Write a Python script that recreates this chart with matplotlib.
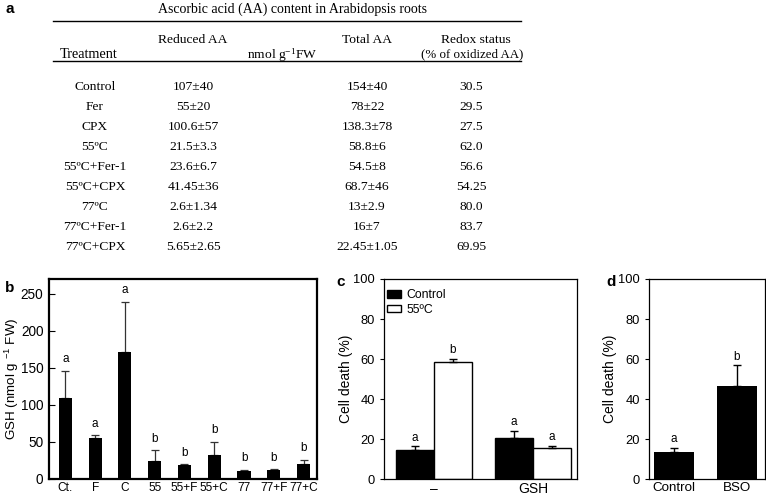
import matplotlib
matplotlib.use("Agg")
import matplotlib.pyplot as plt
import numpy as np
from matplotlib.lines import Line2D

W, H = 766, 497

# ---------------- data ----------------
table_title = "Ascorbic acid (AA) content in Arabidopsis roots"
treatments = ["Control", "Fer", "CPX", "55ºC", "55ºC+Fer-1", "55ºC+CPX",
              "77ºC", "77ºC+Fer-1", "77ºC+CPX"]
reduced_aa = ["107±40", "55±20", "100.6±57", "21.5±3.3", "23.6±6.7", "41.45±36",
              "2.6±1.34", "2.6±2.2", "5.65±2.65"]
total_aa = ["154±40", "78±22", "138.3±78", "58.8±6", "54.5±8", "68.7±46",
            "13±2.9", "16±7", "22.45±1.05"]
redox = ["30.5", "29.5", "27.5", "62.0", "56.6", "54.25", "80.0", "83.7", "69.95"]

b_cats = ["Ct.", "F", "C", "55", "55+F", "55+C", "77", "77+F", "77+C"]
b_vals = [110, 55, 171, 24, 18.5, 33, 10.8, 11.7, 19.8]
b_err = [36, 4, 68, 14.5, 1.5, 17, 1.3, 1.3, 6]
b_letters = ["a", "a", "a", "b", "b", "b", "b", "b", "b"]

c_groups = ["–", "GSH"]
c_control = [14.3, 20.7]
c_control_err = [2.0, 3.3]
c_heat = [58.7, 15.5]
c_heat_err = [1.5, 1.2]
c_letters_control = ["a", "a"]
c_letters_heat = ["b", "a"]

d_cats = ["Control", "BSO"]
d_vals = [13.3, 46.7]
d_err = [2.4, 10.1]
d_letters = ["a", "b"]

# ---------------- figure ----------------
fig = plt.figure(figsize=(W / 100, H / 100), dpi=100)
SANS = "Liberation Sans"
SERIF = "Liberation Serif"


def fx(x):
    return x / W


def fy(y):
    return 1 - y / H


def ax_rect(l, r, t, b):
    return [fx(l), fy(b), (r - l) / W, (b - t) / H]


# ---------------- panel a : table ----------------
fs_t = 9.7
fig.text(fx(5), fy(9), "a", fontsize=11, fontweight="bold", family=SANS, ha="left", va="center")
fig.text(fx(293), fy(9), table_title, fontsize=10, family=SERIF, ha="center", va="center")
for yl in (21, 61):
    fig.add_artist(Line2D([fx(53), fx(521)], [fy(yl), fy(yl)], color="black", lw=1.0,
                          transform=fig.transFigure))
fig.text(fx(89), fy(54), "Treatment", fontsize=10.3, family=SERIF, ha="center", va="center")
fig.text(fx(193), fy(40), "Reduced AA", fontsize=fs_t, family=SERIF, ha="center", va="center")
fig.text(fx(282), fy(55), r"nmol g$^{\mathregular{-1}}$FW", fontsize=fs_t, family=SERIF,
         ha="center", va="center")
fig.text(fx(367), fy(40), "Total AA", fontsize=fs_t, family=SERIF, ha="center", va="center")
fig.text(fx(476), fy(40), "Redox status", fontsize=fs_t, family=SERIF, ha="center", va="center")
fig.text(fx(472), fy(54), "(% of oxidized AA)", fontsize=9.3, family=SERIF, ha="center", va="center")
row0, dy = 87, 19.95
for i in range(len(treatments)):
    y = fy(row0 + i * dy)
    fig.text(fx(95), y, treatments[i], fontsize=fs_t, family=SERIF, ha="center", va="center")
    fig.text(fx(193), y, reduced_aa[i], fontsize=fs_t, family=SERIF, ha="center", va="center")
    fig.text(fx(367), y, total_aa[i], fontsize=fs_t, family=SERIF, ha="center", va="center")
    fig.text(fx(471), y, redox[i], fontsize=fs_t, family=SERIF, ha="center", va="center")

plt.rcParams["font.family"] = SANS
plt.rcParams["mathtext.fontset"] = "custom"
plt.rcParams["mathtext.rm"] = SANS
plt.rcParams["mathtext.it"] = SANS
plt.rcParams["mathtext.default"] = "regular"

let_fs = 8.5

# ---------------- panel b ----------------
axb = fig.add_axes(ax_rect(49, 317, 279, 479))
xb = np.arange(len(b_cats))
axb.bar(xb, b_vals, width=0.44, color="black", zorder=2)
axb.errorbar(xb, b_vals, yerr=[np.zeros(len(b_err)), b_err], fmt="none", ecolor="#333333",
             elinewidth=0.9, capsize=3, capthick=0.9, zorder=1)
for xi, v, e, l in zip(xb, b_vals, b_err, b_letters):
    axb.annotate(l, (xi, v + e), xytext=(0, 4), textcoords="offset points",
                 ha="center", va="bottom", fontsize=let_fs)
axb.set_xlim(-0.55, 8.45)
axb.set_ylim(0, 270)
axb.set_yticks([0, 50, 100, 150, 200, 250])
axb.set_xticks(xb)
axb.set_xticklabels(b_cats)
axb.tick_params(axis="y", direction="in", length=4, labelsize=9.8, width=0.8, pad=4)
axb.tick_params(axis="x", length=0, labelsize=8.6, pad=2)
for s in axb.spines.values():
    s.set_linewidth(1.6)
axb.set_ylabel(r"GSH (nmol g $^{-1}$ FW)", fontsize=9.6)
axb.yaxis.set_label_coords(-0.104, 0.5)
fig.text(fx(5), fy(288), "b", fontsize=11, fontweight="bold", ha="left", va="center")

# ---------------- panel c ----------------
axc = fig.add_axes(ax_rect(384, 577, 279, 479))
xc = np.arange(len(c_groups))
w = 0.384
axc.bar(xc - w / 2, c_control, width=w, color="black", edgecolor="black", lw=1.0,
        label="Control", zorder=2)
axc.bar(xc + w / 2, c_heat, width=w, color="white", edgecolor="black", lw=1.0,
        label="55ºC", zorder=2)
axc.errorbar(xc - w / 2, c_control, yerr=[np.zeros(2), c_control_err], fmt="none",
             ecolor="black", elinewidth=1.0, capsize=3, capthick=1.0, zorder=3)
axc.errorbar(xc + w / 2, c_heat, yerr=[np.zeros(2), c_heat_err], fmt="none",
             ecolor="black", elinewidth=1.0, capsize=3, capthick=1.0, zorder=3)
for xi, v, e, l in zip(xc - w / 2, c_control, c_control_err, c_letters_control):
    axc.annotate(l, (xi, v + e), xytext=(0, 2), textcoords="offset points",
                 ha="center", va="bottom", fontsize=let_fs)
for xi, v, e, l in zip(xc + w / 2, c_heat, c_heat_err, c_letters_heat):
    axc.annotate(l, (xi, v + e), xytext=(0, 2), textcoords="offset points",
                 ha="center", va="bottom", fontsize=let_fs)
axc.set_xlim(-0.505, 1.444)
axc.set_ylim(0, 100)
axc.set_yticks([0, 20, 40, 60, 80, 100])
axc.set_xticks(xc)
axc.set_xticklabels(c_groups)
axc.tick_params(axis="y", direction="out", length=3, labelsize=9.3, width=0.8)
axc.tick_params(axis="x", length=0, labelsize=10, pad=2)
for s in axc.spines.values():
    s.set_linewidth(0.9)
axc.set_ylabel("Cell death (%)", fontsize=10)
axc.yaxis.set_label_coords(-0.16, 0.5)
axc.legend(loc="upper left", bbox_to_anchor=(0.01, 0.955), frameon=False, fontsize=8.8,
           handlelength=1.1, handleheight=0.55, handletextpad=0.5, labelspacing=0.2,
           borderaxespad=0.0, borderpad=0.1)
fig.text(fx(336), fy(282), "c", fontsize=11, fontweight="bold", ha="left", va="center")

# ---------------- panel d ----------------
axd = fig.add_axes(ax_rect(649, 765, 279, 479))
xd = np.arange(len(d_cats))
axd.bar(xd, d_vals, width=0.62, color="black", zorder=2)
axd.errorbar(xd, d_vals, yerr=[np.zeros(2), d_err], fmt="none", ecolor="black",
             elinewidth=1.0, capsize=3, capthick=1.0, zorder=1)
for xi, v, e, l in zip(xd, d_vals, d_err, d_letters):
    axd.annotate(l, (xi, v + e), xytext=(0, 2), textcoords="offset points",
                 ha="center", va="bottom", fontsize=let_fs)
axd.set_xlim(-0.397, 1.444)
axd.set_ylim(0, 100)
axd.set_yticks([0, 20, 40, 60, 80, 100])
axd.set_xticks(xd)
axd.set_xticklabels(d_cats)
axd.tick_params(axis="y", direction="out", length=3, labelsize=9.3, width=0.8)
axd.tick_params(axis="x", length=0, labelsize=9.6, pad=2)
for s in axd.spines.values():
    s.set_linewidth(0.9)
axd.set_ylabel("Cell death (%)", fontsize=10)
axd.yaxis.set_label_coords(-0.276, 0.5)
fig.text(fx(606), fy(282), "d", fontsize=11, fontweight="bold", ha="left", va="center")

fig.savefig("out.png", dpi=100)
